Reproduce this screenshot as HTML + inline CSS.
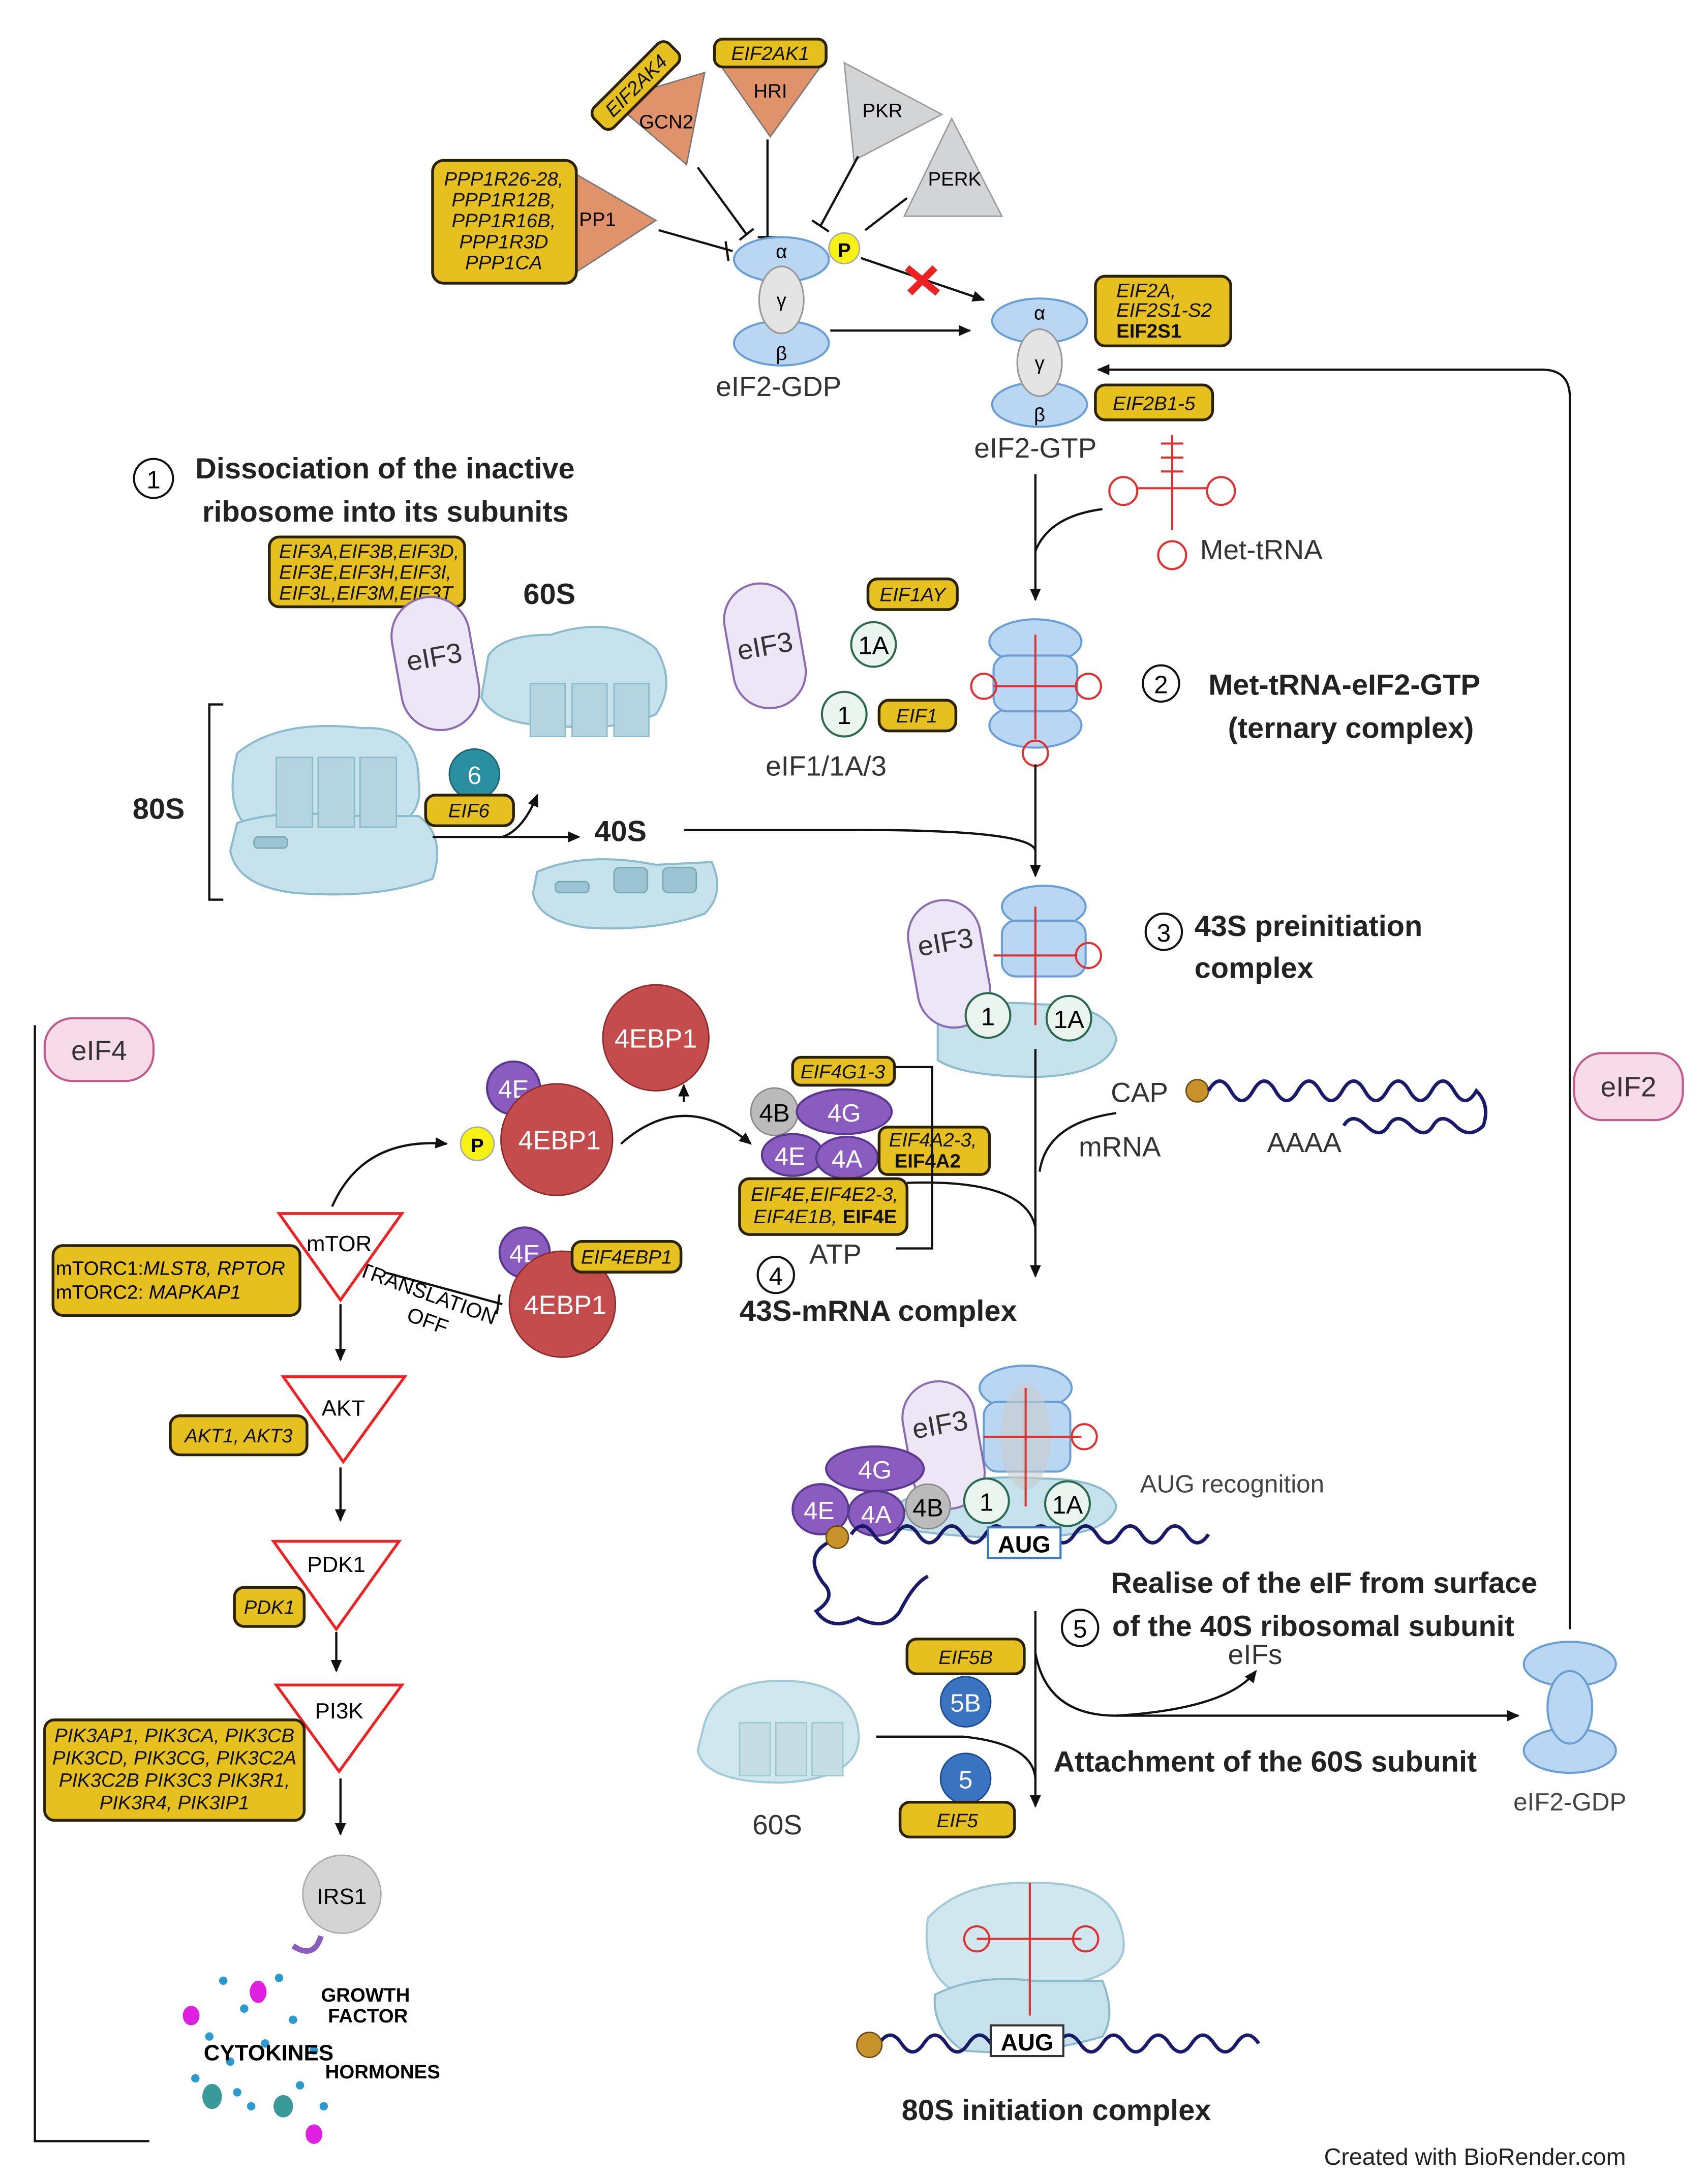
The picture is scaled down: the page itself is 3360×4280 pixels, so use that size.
<!DOCTYPE html>
<html><head><meta charset="utf-8"><style>
html,body{margin:0;padding:0;background:#fff}
svg{display:block}
text{font-family:"Liberation Sans",sans-serif}
.y{fill:#e6c01e;stroke:#2a2200;stroke-width:2}
.yt{font-style:italic;font-size:14px;fill:#111}
.bl{fill:#b9d6f2;stroke:#6a9fd6;stroke-width:1.5}
.gr{fill:#e4e4e4;stroke:#999;stroke-width:1.2}
.rb{fill:#c6e2ec;stroke:#8cbccc;stroke-width:1.5}
.ln{stroke:#111;stroke-width:1.6;fill:none}
.pu{fill:#8a5cc0;stroke:#5a3890;stroke-width:1.5}
.mt{fill:#eaf5ef;stroke:#2c6a50;stroke-width:1.5}
.h{font-weight:bold;font-size:21px;fill:#222}
.n{font-size:20px;fill:#333}
</style></head><body>
<svg width="3360" height="4280" viewBox="0 0 1224 1560" preserveAspectRatio="none" xmlns="http://www.w3.org/2000/svg">
<defs><marker id="a" markerWidth="10" markerHeight="10" refX="8" refY="5" orient="auto" markerUnits="userSpaceOnUse"><path d="M0,1 L9,5 L0,9 z" fill="#111"/></marker></defs>

<!-- kinases -->
<polygon points="413,125 470,158 413,195" fill="#e0936a" stroke="#777"/><text x="415" y="162" font-size="14">PP1</text>
<rect class="y" x="310" y="115" width="103" height="88" rx="8"/>
<text class="yt" x="361" text-anchor="middle"><tspan x="361" y="133">PPP1R26-28,</tspan><tspan x="361" y="148">PPP1R12B,</tspan><tspan x="361" y="163">PPP1R16B,</tspan><tspan x="361" y="178">PPP1R3D</tspan><tspan x="361" y="193">PPP1CA</tspan></text>
<polygon points="438,72 505,52 492,118" fill="#e0936a" stroke="#777"/><text x="458" y="92" font-size="14">GCN2</text>
<g transform="rotate(-45 455 62)"><rect class="y" x="418" y="52" width="76" height="20" rx="6"/><text class="yt" x="456" y="67" text-anchor="middle">EIF2AK4</text></g>
<polygon points="515,45 590,45 552,98" fill="#e0936a" stroke="#777"/><text x="540" y="70" font-size="14">HRI</text>
<rect class="y" x="512" y="28" width="80" height="20" rx="6"/><text class="yt" x="552" y="43" text-anchor="middle">EIF2AK1</text>
<polygon points="605,45 675,82 612,115" fill="#d3d4d6" stroke="#999"/><text x="618" y="84" font-size="14">PKR</text>
<polygon points="682,85 718,155 648,155" fill="#d3d4d6" stroke="#999"/><text x="665" y="133" font-size="14">PERK</text>
<path class="ln" d="M472,165 L525,180 M520,173 L522,187 M500,120 L535,168 M530,172 L540,164 M550,100 L550,170 M543,170 L557,170 M615,112 L588,162 M582,158 L594,166 M650,142 L620,165"/>
<!-- eIF2-GDP -->
<ellipse class="bl" cx="560" cy="186" rx="34" ry="16"/><ellipse class="bl" cx="560" cy="246" rx="34" ry="16"/>
<ellipse class="gr" cx="560" cy="215" rx="16" ry="24"/>
<text x="560" y="185" font-size="14" text-anchor="middle">α</text><text x="560" y="220" font-size="14" text-anchor="middle">γ</text><text x="560" y="258" font-size="14" text-anchor="middle">β</text>
<circle cx="605" cy="178" r="11" fill="#f7f213" stroke="#aaa"/><text x="605" y="184" font-size="14" font-weight="bold" text-anchor="middle">P</text>
<text x="558" y="284" class="n" text-anchor="middle">eIF2-GDP</text>
<path class="ln" d="M617,185 L705,215" marker-end="url(#a)"/>
<path d="M650,192 L672,210 M670,192 L652,210" stroke="#e22" stroke-width="5"/>
<path class="ln" d="M595,237 L695,237" marker-end="url(#a)"/>
<!-- eIF2-GTP -->
<ellipse class="bl" cx="745" cy="230" rx="34" ry="16"/><ellipse class="bl" cx="745" cy="290" rx="34" ry="16"/>
<ellipse class="gr" cx="745" cy="260" rx="16" ry="24"/>
<text x="745" y="229" font-size="14" text-anchor="middle">α</text><text x="745" y="265" font-size="14" text-anchor="middle">γ</text><text x="745" y="302" font-size="14" text-anchor="middle">β</text>
<text x="742" y="328" class="n" text-anchor="middle">eIF2-GTP</text>
<rect class="y" x="785" y="198" width="97" height="50" rx="7"/>
<text class="yt" x="830"><tspan x="800" y="213">EIF2A,</tspan><tspan x="800" y="227">EIF2S1-S2</tspan><tspan x="800" y="242" font-weight="bold" font-style="normal">EIF2S1</tspan></text>
<rect class="y" x="785" y="276" width="84" height="25" rx="7"/><text class="yt" x="827" y="294" text-anchor="middle">EIF2B1-5</text>
<path class="ln" d="M1125,1168 L1125,285 Q1125,265 1105,265 L787,265" marker-end="url(#a)"/>
<!-- Met-tRNA -->
<g stroke="#e03030" fill="none" stroke-width="1.5"><path d="M840,312 L840,380 M815,350 L865,350 M840,320 L840,345"/><circle cx="840" cy="398" r="10"/><circle cx="805" cy="352" r="10"/><circle cx="875" cy="352" r="10"/><path d="M832,318 L848,318 M832,328 L848,328 M832,338 L848,338"/></g>
<text x="860" y="401" class="n">Met-tRNA</text>
<path class="ln" d="M742,340 L742,430" marker-end="url(#a)"/><path class="ln" d="M790,365 Q752,370 742,395"/>
<!-- ternary -->
<ellipse class="bl" cx="742" cy="460" rx="33" ry="16"/><ellipse class="bl" cx="742" cy="520" rx="33" ry="16"/><rect class="bl" x="712" y="470" width="60" height="40" rx="10"/>
<g stroke="#e03030" fill="none" stroke-width="1.5"><path d="M742,455 L742,530 M712,492 L772,492"/><circle cx="742" cy="540" r="9"/><circle cx="705" cy="492" r="9"/><circle cx="780" cy="492" r="9"/></g>
<circle cx="832" cy="490" r="13" fill="#fff" stroke="#111" stroke-width="1.5"/><text x="832" y="497" font-size="18" text-anchor="middle">2</text>
<text class="h" x="866" y="498">Met-tRNA-eIF2-GTP</text><text class="h" x="880" y="529">(ternary complex)</text>
<path class="ln" d="M742,548 L742,628" marker-end="url(#a)"/>
<!-- step1 -->
<circle cx="110" cy="343" r="14" fill="#fff" stroke="#111" stroke-width="1.5"/><text x="110" y="350" font-size="18" text-anchor="middle">1</text>
<text class="h" x="140" y="343">Dissociation of the inactive</text><text class="h" x="145" y="374">ribosome into its subunits</text>
<rect class="y" x="193" y="385" width="140" height="50" rx="7"/>
<text class="yt"><tspan x="200" y="400">EIF3A,EIF3B,EIF3D,</tspan><tspan x="200" y="415">EIF3E,EIF3H,EIF3I,</tspan><tspan x="200" y="430">EIF3L,EIF3M,EIF3T</tspan></text>
<text class="h" x="375" y="433">60S</text>
<path d="M350,470 Q360,455 395,455 Q440,440 470,465 Q485,490 470,512 Q440,525 395,520 Q355,520 345,500 z" class="rb"/>
<rect x="380" y="490" width="25" height="38" fill="#b4d4df" stroke="#8cbccc"/><rect x="410" y="490" width="25" height="38" fill="#b4d4df" stroke="#8cbccc"/><rect x="440" y="490" width="25" height="38" fill="#b4d4df" stroke="#8cbccc"/>
<g transform="rotate(-10 310 470)"><rect x="283" y="428" width="56" height="96" rx="28" fill="#ede6f7" stroke="#8a6cb0" stroke-width="1.5"/><text x="311" y="478" class="n" text-anchor="middle">eIF3</text></g>
<path class="ln" d="M160,505 L150,505 L150,645 L160,645"/><text class="h" x="95" y="587">80S</text>
<path d="M170,540 Q200,515 260,522 Q300,520 300,560 Q305,595 260,595 L180,595 Q160,580 170,540 z" class="rb"/>
<path d="M170,590 Q200,580 250,585 L300,585 Q320,600 310,630 Q270,645 210,640 Q170,635 165,610 z" class="rb"/>
<rect x="198" y="543" width="26" height="50" fill="#b4d4df" stroke="#8cbccc"/><rect x="228" y="543" width="26" height="50" fill="#b4d4df" stroke="#8cbccc"/><rect x="258" y="543" width="26" height="50" fill="#b4d4df" stroke="#8cbccc"/>
<rect x="182" y="600" width="24" height="8" rx="3" fill="#9cc4d4" stroke="#7aa"/>
<circle cx="340" cy="555" r="18" fill="#2a8fa0" stroke="#1a6070"/><text x="340" y="562" font-size="18" fill="#fff" text-anchor="middle">6</text>
<rect class="y" x="305" y="570" width="63" height="22" rx="7"/><text class="yt" x="336" y="586" text-anchor="middle">EIF6</text>
<path class="ln" d="M310,600 L415,600" marker-end="url(#a)"/><path class="ln" d="M360,600 Q375,595 385,570" marker-end="url(#a)"/>
<text class="h" x="426" y="603">40S</text>
<path d="M385,625 Q420,610 470,620 L510,618 Q520,640 505,655 Q470,668 420,665 Q385,660 382,640 z" class="rb"/>
<rect x="398" y="632" width="24" height="8" rx="3" fill="#9cc4d4" stroke="#7aa"/><rect x="440" y="622" width="24" height="18" rx="4" fill="#9cc4d4" stroke="#7aa"/><rect x="475" y="622" width="24" height="18" rx="4" fill="#9cc4d4" stroke="#7aa"/>
<path class="ln" d="M490,595 L615,595 Q740,595 742,610"/>
<!-- eIF1/1A/3 -->
<g transform="rotate(-10 548 462)"><rect x="522" y="418" width="52" height="90" rx="26" fill="#ede6f7" stroke="#8a6cb0" stroke-width="1.5"/><text x="548" y="470" class="n" text-anchor="middle">eIF3</text></g>
<rect class="y" x="622" y="415" width="64" height="22" rx="7"/><text class="yt" x="654" y="431" text-anchor="middle">EIF1AY</text>
<circle class="mt" cx="626" cy="462" r="16"/><text x="626" y="469" font-size="18" text-anchor="middle">1A</text>
<circle class="mt" cx="605" cy="512" r="16"/><text x="605" y="519" font-size="18" text-anchor="middle">1</text>
<rect class="y" x="630" y="502" width="55" height="22" rx="7"/><text class="yt" x="657" y="518" text-anchor="middle">EIF1</text>
<text x="592" y="556" class="n" text-anchor="middle">eIF1/1A/3</text>
<!-- 43S -->
<path d="M672,735 Q690,715 745,720 Q795,720 800,745 Q795,770 745,772 Q690,772 672,760 z" class="rb"/>
<ellipse class="bl" cx="748" cy="650" rx="30" ry="15"/><rect class="bl" x="718" y="660" width="60" height="40" rx="10"/>
<g transform="rotate(-10 680 690)"><rect x="654" y="645" width="52" height="92" rx="26" fill="#ede6f7" stroke="#8a6cb0" stroke-width="1.5"/><text x="680" y="682" class="n" text-anchor="middle">eIF3</text></g>
<g stroke="#e03030" fill="none" stroke-width="1.5"><path d="M742,650 L742,735 M712,685 L772,685"/><circle cx="780" cy="685" r="9"/></g>
<circle class="mt" cx="708" cy="728" r="16"/><text x="708" y="735" font-size="18" text-anchor="middle">1</text>
<circle class="mt" cx="766" cy="730" r="16"/><text x="766" y="737" font-size="18" text-anchor="middle">1A</text>
<circle cx="834" cy="668" r="13" fill="#fff" stroke="#111" stroke-width="1.5"/><text x="834" y="675" font-size="18" text-anchor="middle">3</text>
<text class="h" x="856" y="671">43S preinitiation</text><text class="h" x="856" y="701">complex</text>
<!-- mRNA -->
<text x="796" y="790" class="n">CAP</text><circle cx="858" cy="782" r="8" fill="#c8922a" stroke="#6a4a10"/>
<path d="M866,782 q8,-14 16,0 t16,0 t16,0 t16,0 t16,0 t16,0 t16,0 t16,0 t16,0 t16,0 t16,0 t16,0 q10,10 5,25 q-10,10 -20,0 t-16,0 t-16,0 t-16,0 t-16,0 t-16,0" fill="none" stroke="#1a1a6a" stroke-width="2.5"/>
<text x="908" y="826" class="n">AAAA</text>
<text x="773" y="829" class="n">mRNA</text>
<path class="ln" d="M742,752 L742,915" marker-end="url(#a)"/><path class="ln" d="M800,798 Q750,805 745,840"/>
<path class="ln" d="M650,848 Q735,845 742,880"/>
<rect x="1128" y="755" width="78" height="48" rx="20" fill="#f8dbe9" stroke="#c05a8a" stroke-width="1.5"/><text x="1167" y="786" class="n" text-anchor="middle">eIF2</text>
<!-- eIF4 complex -->
<circle cx="555" cy="797" r="17" fill="#bbb" stroke="#888"/><text x="555" y="804" font-size="18" text-anchor="middle">4B</text>
<ellipse class="pu" cx="605" cy="797" rx="34" ry="16"/><text x="605" y="804" font-size="18" fill="#fff" text-anchor="middle">4G</text>
<ellipse class="pu" cx="568" cy="828" rx="22" ry="15"/><text x="566" y="835" font-size="18" fill="#fff" text-anchor="middle">4E</text>
<ellipse class="pu" cx="607" cy="830" rx="22" ry="15"/><text x="607" y="837" font-size="18" fill="#fff" text-anchor="middle">4A</text>
<rect class="y" x="568" y="758" width="73" height="20" rx="6"/><text class="yt" x="604" y="773" text-anchor="middle">EIF4G1-3</text>
<rect class="y" x="630" y="808" width="79" height="34" rx="6"/><text class="yt"><tspan x="637" y="822">EIF4A2-3,</tspan><tspan x="641" y="837" font-weight="bold" font-style="normal">EIF4A2</tspan></text>
<rect class="y" x="530" y="845" width="120" height="40" rx="7"/><text class="yt"><tspan x="538" y="861">EIF4E,EIF4E2-3,</tspan><tspan x="540" y="877">EIF4E1B, </tspan><tspan font-weight="bold" font-style="normal">EIF4E</tspan></text>
<path class="ln" d="M641,765 L668,765 L668,895 L642,895"/>
<text x="580" y="906" class="n">ATP</text>
<circle cx="556" cy="914" r="13" fill="#fff" stroke="#111" stroke-width="1.5"/><text x="556" y="921" font-size="18" text-anchor="middle">4</text>
<text class="h" x="530" y="947">43S-mRNA complex</text>
<!-- 4EBP1 -->
<circle cx="470" cy="744" r="38" fill="#c44c4c" stroke="#8a2a2a"/><text x="470" y="751" font-size="19" fill="#fff" text-anchor="middle">4EBP1</text>
<path class="ln" d="M490,790 L490,778" marker-end="url(#a)"/>
<circle class="pu" cx="368" cy="780" r="19"/><text x="368" y="787" font-size="18" fill="#fff" text-anchor="middle">4E</text>
<circle cx="399" cy="817" r="40" fill="#c44c4c" stroke="#8a2a2a"/><text x="401" y="824" font-size="19" fill="#fff" text-anchor="middle">4EBP1</text>
<circle cx="342" cy="820" r="12" fill="#f7f213" stroke="#aaa"/><text x="342" y="826" font-size="14" font-weight="bold" text-anchor="middle">P</text>
<path class="ln" d="M445,820 Q490,780 538,820" marker-end="url(#a)"/>
<path class="ln" d="M238,865 Q260,815 320,820" marker-end="url(#a)"/>
<circle class="pu" cx="376" cy="898" r="18"/><text x="376" y="905" font-size="18" fill="#fff" text-anchor="middle">4E</text>
<circle cx="403" cy="935" r="38" fill="#c44c4c" stroke="#8a2a2a"/><text x="405" y="942" font-size="19" fill="#fff" text-anchor="middle">4EBP1</text>
<rect class="y" x="410" y="890" width="78" height="22" rx="7"/><text class="yt" x="449" y="906" text-anchor="middle">EIF4EBP1</text>
<path class="ln" d="M275,912 L360,935 M358,928 L356,942"/>
<text transform="rotate(20 300 925)" x="255" y="930" font-size="15">TRANSLATION</text>
<text transform="rotate(20 300 950)" x="290" y="950" font-size="15">OFF</text>
<!-- eIF4 left pathway -->
<path class="ln" d="M25,735 L25,1535 L107,1535"/>
<rect x="32" y="730" width="78" height="45" rx="20" fill="#f8dbe9" stroke="#c05a8a" stroke-width="1.5"/><text x="71" y="760" class="n" text-anchor="middle">eIF4</text>
<polygon points="200,870 288,870 244,932" fill="#fff" stroke="#e22" stroke-width="2"/><text x="243" y="897" font-size="16" text-anchor="middle">mTOR</text>
<rect class="y" x="38" y="893" width="177" height="50" rx="7"/><text font-size="14"><tspan x="40" y="914">mTORC1:<tspan font-style="italic">MLST8, RPTOR</tspan></tspan><tspan x="40" y="931">mTORC2: <tspan font-style="italic">MAPKAP1</tspan></tspan></text>
<path class="ln" d="M244,935 L244,975" marker-end="url(#a)"/>
<polygon points="203,987 290,987 246,1048" fill="#fff" stroke="#e22" stroke-width="2"/><text x="246" y="1015" font-size="16" text-anchor="middle">AKT</text>
<rect class="y" x="122" y="1015" width="98" height="28" rx="7"/><text class="yt" x="171" y="1034" text-anchor="middle">AKT1, AKT3</text>
<path class="ln" d="M244,1052 L244,1090" marker-end="url(#a)"/>
<polygon points="196,1105 286,1105 241,1168" fill="#fff" stroke="#e22" stroke-width="2"/><text x="241" y="1127" font-size="16" text-anchor="middle">PDK1</text>
<rect class="y" x="168" y="1138" width="50" height="28" rx="7"/><text class="yt" x="193" y="1157" text-anchor="middle">PDK1</text>
<path class="ln" d="M241,1170 L241,1198" marker-end="url(#a)"/>
<polygon points="198,1208 288,1208 243,1270" fill="#fff" stroke="#e22" stroke-width="2"/><text x="243" y="1232" font-size="16" text-anchor="middle">PI3K</text>
<rect class="y" x="32" y="1233" width="186" height="72" rx="7"/><text class="yt" text-anchor="middle"><tspan x="125" y="1249">PIK3AP1, PIK3CA, PIK3CB</tspan><tspan x="125" y="1265">PIK3CD, PIK3CG, PIK3C2A</tspan><tspan x="125" y="1281">PIK3C2B PIK3C3 PIK3R1,</tspan><tspan x="125" y="1297">PIK3R4, PIK3IP1</tspan></text>
<path class="ln" d="M244,1275 L244,1315" marker-end="url(#a)"/>
<circle cx="245" cy="1358" r="28" fill="#d4d4d4" stroke="#aaa"/><text x="245" y="1365" font-size="16" text-anchor="middle">IRS1</text>
<path d="M210,1395 Q225,1405 230,1388" fill="none" stroke="#8a5cc0" stroke-width="4"/>
<g fill="#2a9ad0"><circle cx="160" cy="1420" r="3"/><circle cx="175" cy="1440" r="3"/><circle cx="200" cy="1418" r="3"/><circle cx="210" cy="1448" r="3"/><circle cx="150" cy="1460" r="3"/><circle cx="190" cy="1465" r="3"/><circle cx="225" cy="1470" r="3"/><circle cx="140" cy="1490" r="3"/><circle cx="170" cy="1500" r="3"/><circle cx="215" cy="1495" r="3"/><circle cx="180" cy="1510" r="3"/><circle cx="232" cy="1510" r="3"/><circle cx="165" cy="1478" r="3"/></g>
<g fill="#e020e0"><ellipse cx="185" cy="1428" rx="6" ry="8"/><ellipse cx="137" cy="1445" rx="6" ry="7"/><ellipse cx="225" cy="1530" rx="6" ry="7"/></g>
<g fill="#3a9a9a"><ellipse cx="152" cy="1503" rx="7" ry="9"/><ellipse cx="203" cy="1510" rx="7" ry="8"/></g>
<text font-size="14" font-weight="bold"><tspan x="230" y="1435">GROWTH</tspan><tspan x="235" y="1450">FACTOR</tspan><tspan x="146" y="1477" font-size="16">CYTOKINES</tspan><tspan x="233" y="1490">HORMONES</tspan></text>
<!-- 48S -->
<ellipse class="bl" cx="735" cy="995" rx="33" ry="16"/><rect class="bl" x="705" y="1005" width="62" height="50" rx="10"/>
<path d="M640,1080 Q680,1055 745,1060 Q795,1060 800,1080 Q795,1100 745,1102 Q690,1104 640,1095 z" class="rb"/>
<g transform="rotate(-10 676 1035)"><rect x="650" y="990" width="52" height="92" rx="26" fill="#ede6f7" stroke="#8a6cb0" stroke-width="1.5"/><text x="676" y="1028" class="n" text-anchor="middle">eIF3</text></g>
<ellipse cx="735" cy="1030" rx="18" ry="38" fill="#ccc" opacity="0.6"/>
<g stroke="#e03030" fill="none" stroke-width="1.5"><path d="M735,995 L735,1080 M705,1030 L775,1030"/><circle cx="777" cy="1030" r="9"/></g>
<ellipse class="pu" cx="627" cy="1053" rx="35" ry="16"/><text x="627" y="1060" font-size="18" fill="#fff" text-anchor="middle">4G</text>
<circle cx="665" cy="1080" r="16" fill="#bbb" stroke="#888"/><text x="665" y="1087" font-size="18" text-anchor="middle">4B</text>
<ellipse class="pu" cx="588" cy="1082" rx="20" ry="18"/><text x="587" y="1089" font-size="18" fill="#fff" text-anchor="middle">4E</text>
<ellipse class="pu" cx="628" cy="1085" rx="20" ry="16"/><text x="628" y="1092" font-size="18" fill="#fff" text-anchor="middle">4A</text>
<circle class="mt" cx="707" cy="1076" r="16"/><text x="707" y="1083" font-size="18" text-anchor="middle">1</text>
<circle class="mt" cx="765" cy="1078" r="16"/><text x="765" y="1085" font-size="18" text-anchor="middle">1A</text>
<path d="M610,1100 q8,-12 16,0 t16,0 t16,0 t16,0 t16,0 t16,0 t16,0 t16,0 t16,0 t16,0 t16,0 t16,0 t16,0 t16,0 t16,0 t16,0" fill="none" stroke="#1a1a6a" stroke-width="2.5"/>
<path d="M595,1105 q-20,10 -5,30 q10,10 -5,20 q10,15 30,5 q20,10 30,-5 q10,-20 20,-25" fill="none" stroke="#1a1a6a" stroke-width="2.5"/>
<circle cx="600" cy="1102" r="8" fill="#c8922a" stroke="#6a4a10"/>
<rect x="708" y="1095" width="52" height="22" fill="#fff" stroke="#3a7ac0" stroke-width="1.5"/><text x="734" y="1113" font-size="17" font-weight="bold" text-anchor="middle">AUG</text>
<text x="817" y="1070" font-size="18" fill="#444">AUG recognition</text>
<text class="h" x="796" y="1142">Realise of the eIF from surface</text>
<circle cx="774" cy="1167" r="13" fill="#fff" stroke="#111" stroke-width="1.5"/><text x="774" y="1174" font-size="18" text-anchor="middle">5</text>
<text class="h" x="797" y="1173">of the 40S ribosomal subunit</text>
<text x="880" y="1193" class="n" fill="#444">eIFs</text>
<path class="ln" d="M742,1155 L742,1295" marker-end="url(#a)"/>
<path class="ln" d="M742,1185 Q750,1230 800,1230 L1088,1230" marker-end="url(#a)"/>
<path class="ln" d="M800,1230 Q880,1225 900,1198" marker-end="url(#a)"/>
<!-- eIF2-GDP bottom -->
<ellipse class="bl" cx="1125" cy="1193" rx="33" ry="16"/><ellipse class="bl" cx="1125" cy="1255" rx="33" ry="16"/><ellipse class="bl" cx="1125" cy="1224" rx="16" ry="26"/>
<text x="1125" y="1298" font-size="18" fill="#444" text-anchor="middle">eIF2-GDP</text>
<rect class="y" x="650" y="1175" width="84" height="25" rx="7"/><text class="yt" x="692" y="1193" text-anchor="middle">EIF5B</text>
<circle cx="692" cy="1220" r="18" fill="#3a74c0" stroke="#1a4a90"/><text x="692" y="1227" font-size="18" fill="#fff" text-anchor="middle">5B</text>
<circle cx="692" cy="1275" r="18" fill="#3a74c0" stroke="#1a4a90"/><text x="692" y="1282" font-size="18" fill="#fff" text-anchor="middle">5</text>
<rect class="y" x="645" y="1292" width="82" height="25" rx="7"/><text class="yt" x="686" y="1310" text-anchor="middle">EIF5</text>
<path d="M505,1235 Q515,1205 560,1205 Q610,1205 615,1240 Q620,1275 560,1278 Q505,1278 500,1255 z" class="rb" opacity="0.8"/>
<rect x="530" y="1235" width="22" height="38" fill="#c6dde6" stroke="#9cc"/><rect x="556" y="1235" width="22" height="38" fill="#c6dde6" stroke="#9cc"/><rect x="582" y="1235" width="22" height="38" fill="#c6dde6" stroke="#9cc"/>
<text x="557" y="1315" class="n" text-anchor="middle">60S</text>
<path class="ln" d="M628,1245 L690,1245 Q740,1250 742,1275"/>
<text class="h" x="755" y="1270">Attachment of the 60S subunit</text>
<!-- 80S initiation -->
<path d="M665,1375 Q690,1348 740,1350 Q800,1348 805,1390 Q810,1420 745,1425 L680,1425 Q660,1410 665,1375 z" class="rb" opacity="0.8"/>
<path d="M670,1430 Q700,1415 740,1420 L790,1420 Q800,1445 790,1460 Q740,1475 690,1470 Q668,1455 670,1430 z" class="rb"/>
<g stroke="#e03030" fill="none" stroke-width="1.5"><path d="M738,1350 L738,1445 M700,1390 L775,1390"/><circle cx="778" cy="1390" r="9"/><circle cx="700" cy="1390" r="9"/></g>
<path d="M630,1465 q8,-12 16,0 t16,0 t16,0 t16,0 t16,0 t16,0 t16,0 t16,0 t16,0 t16,0 t16,0 t16,0 t16,0 t16,0 t16,0 t16,0 t16,0" fill="none" stroke="#1a1a6a" stroke-width="2.5"/>
<circle cx="623" cy="1466" r="9" fill="#c8922a" stroke="#6a4a10"/>
<rect x="710" y="1452" width="52" height="22" fill="#fff" stroke="#333" stroke-width="1.5"/><text x="736" y="1470" font-size="17" font-weight="bold" text-anchor="middle">AUG</text>
<text class="h" x="757" y="1520" text-anchor="middle">80S initiation complex</text>
<text x="1057" y="1552" font-size="17" fill="#222" text-anchor="middle">Created with BioRender.com</text>
</svg>
</body></html>
